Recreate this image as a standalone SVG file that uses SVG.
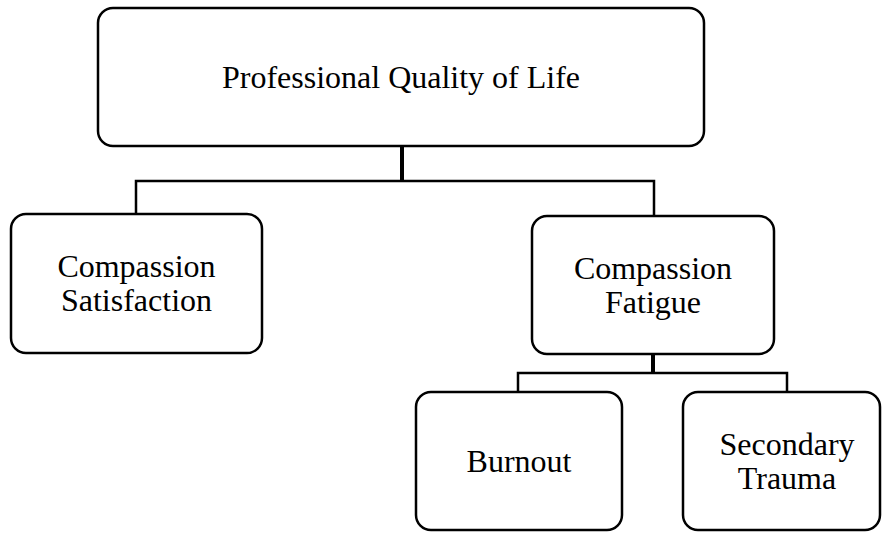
<svg xmlns="http://www.w3.org/2000/svg" width="882" height="533" viewBox="0 0 882 533">
<style>
.box{fill:#fff;stroke:#000;stroke-width:2.5}
.t{font-family:"Liberation Serif","Times New Roman",serif;font-size:32px;fill:#000;text-anchor:middle}
.c{fill:none;stroke:#000;stroke-width:2.5}
.s{fill:none;stroke:#000;stroke-width:4}
</style>
<rect width="882" height="533" fill="#fff"/>
<g id="connectors">
<line class="s" x1="402" y1="146" x2="402" y2="181"/>
<polyline class="c" points="136,214 136,181 654,181 654,216"/>
<line class="s" x1="653" y1="354" x2="653" y2="373"/>
<polyline class="c" points="518,392 518,373 787,373 787,392"/>
</g>
<g id="n-proqol">
<rect class="box" x="98" y="8" width="606" height="138" rx="15"/>
<text class="t" x="401" y="88">Professional Quality of Life</text>
</g>
<g id="n-cs">
<rect class="box" x="11" y="214" width="251" height="139" rx="15"/>
<text class="t" x="136.5" y="277">Compassion</text>
<text class="t" x="136.5" y="311">Satisfaction</text>
</g>
<g id="n-cf">
<rect class="box" x="532" y="216" width="242" height="138" rx="15"/>
<text class="t" x="653" y="279">Compassion</text>
<text class="t" x="653" y="313">Fatigue</text>
</g>
<g id="n-burnout">
<rect class="box" x="416" y="392" width="206" height="138" rx="15"/>
<text class="t" x="519" y="472">Burnout</text>
</g>
<g id="n-st">
<rect class="box" x="683" y="392" width="197" height="138" rx="15"/>
<text class="t" x="787" y="455">Secondary</text>
<text class="t" x="787" y="489">Trauma</text>
</g>
</svg>
